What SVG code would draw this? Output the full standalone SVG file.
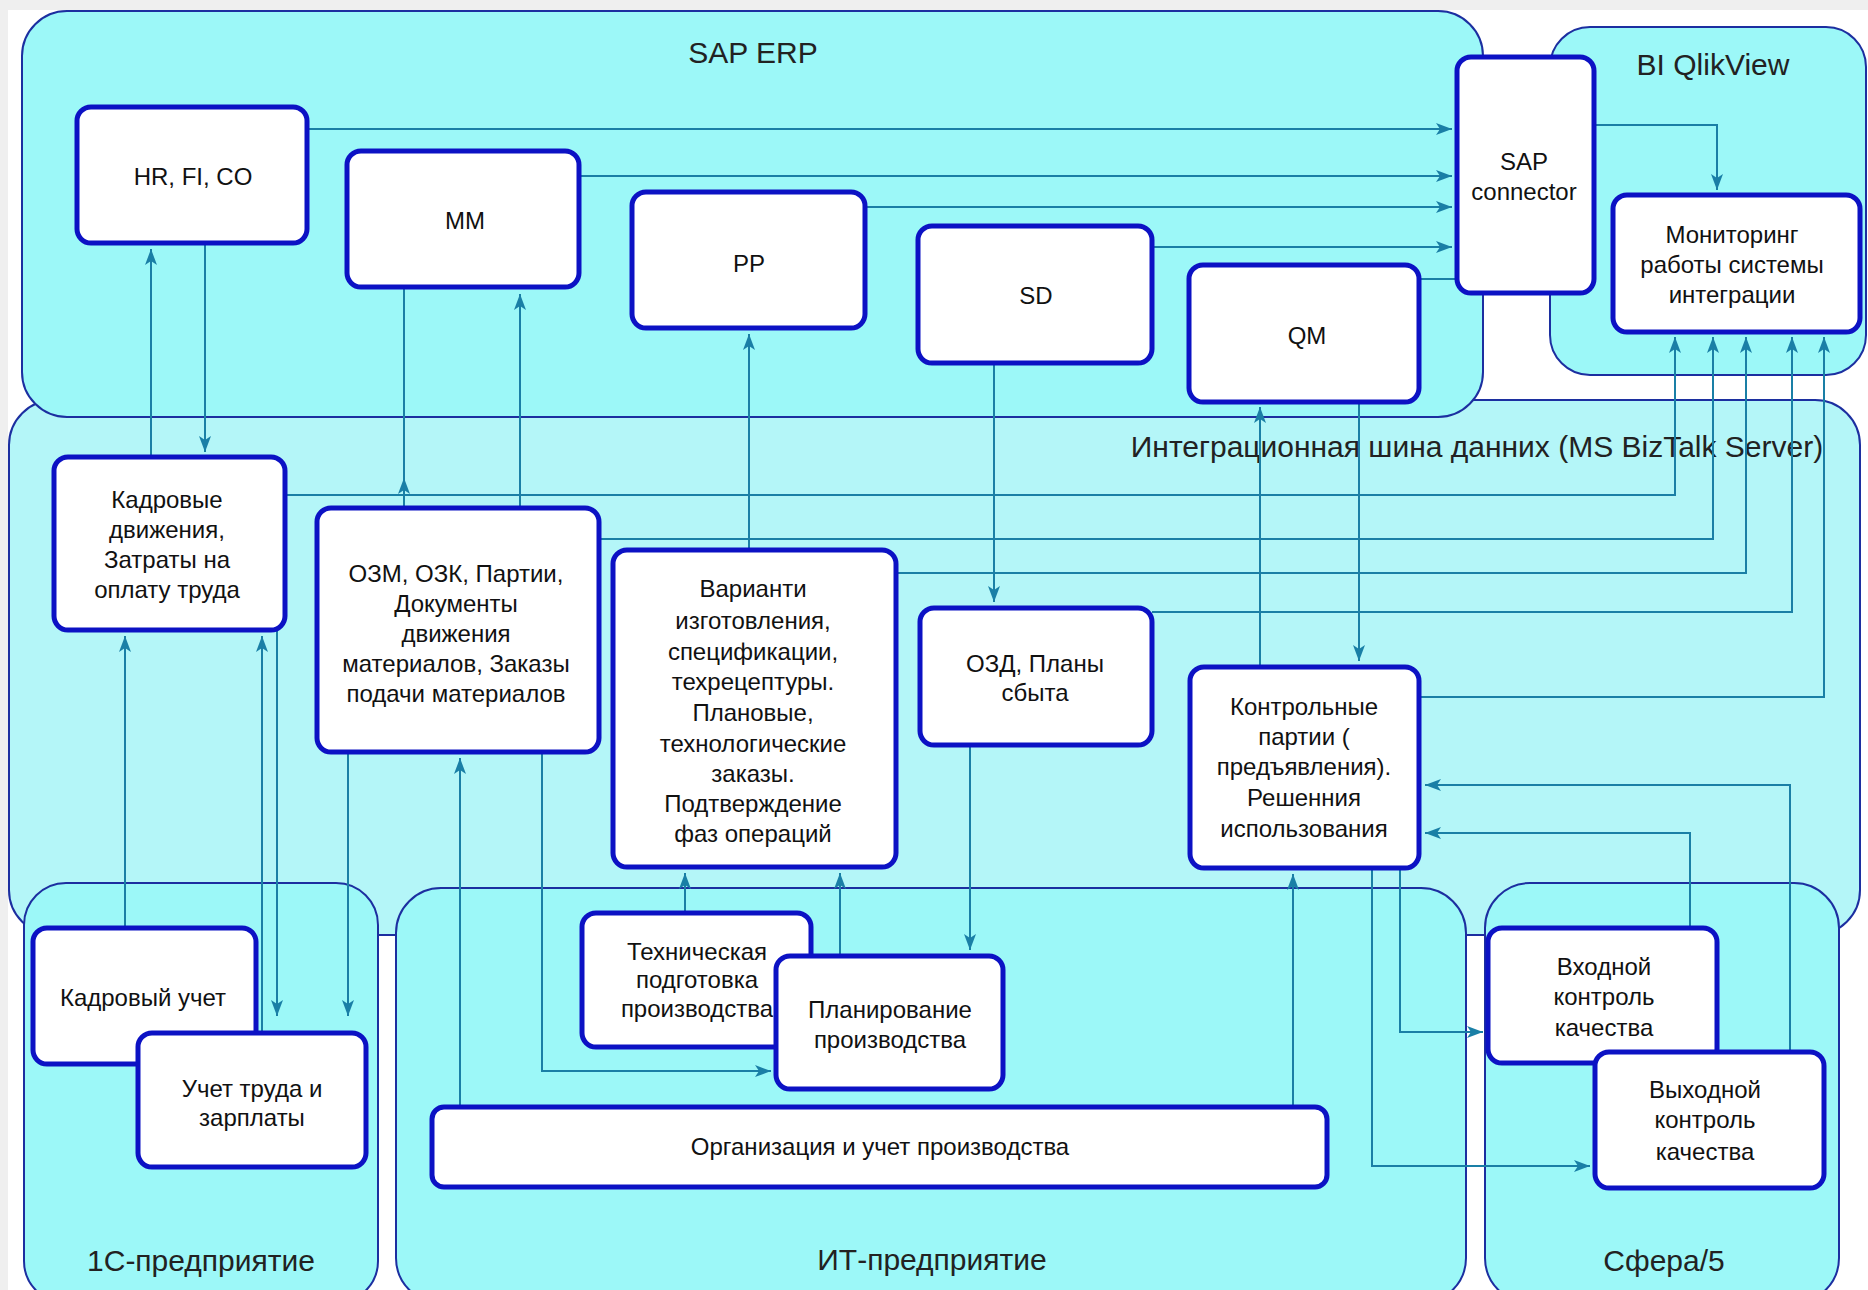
<svg xmlns="http://www.w3.org/2000/svg" width="1868" height="1290" viewBox="0 0 1868 1290">
<defs>
<style>
.cont{fill:#9cf8f8;stroke:#1c2fa0;stroke-width:2}
.bus{fill:#b4f6f8;stroke:#1c2fa0;stroke-width:2}
.node rect{fill:#ffffff;stroke:#0c12c4;stroke-width:5}
.node text,.lbl{font-family:"Liberation Sans",Arial,sans-serif;fill:#111;text-anchor:middle}
.node text{font-size:24px}
.lbl{font-size:30px;fill:#222}
.c{fill:none;stroke:#1a7fa6;stroke-width:2}
.a{marker-end:url(#arr)}
</style>
<marker id="arr" viewBox="0 0 16 12" refX="16" refY="6" markerWidth="16" markerHeight="12" markerUnits="userSpaceOnUse" orient="auto">
<path d="M0,0 L16,6 L0,12 L4,6 Z" fill="#1a7fa6"/>
</marker>
</defs>
<rect x="0" y="0" width="1868" height="1290" fill="#efefef"/>
<rect x="8" y="10" width="1860" height="1280" fill="#ffffff"/>

<g id="containers">
<rect id="bus" class="bus" x="9" y="400" width="1851" height="535" rx="45"/>
<rect id="sap-erp" class="cont" x="22" y="11" width="1461" height="406" rx="45"/>
<rect id="bi-qlikview" class="cont" x="1550" y="27" width="316" height="348" rx="40"/>
<rect id="c1-enterprise" class="cont" x="24" y="883" width="354" height="420" rx="42"/>
<rect id="it-enterprise" class="cont" x="396" y="888" width="1070" height="415" rx="45"/>
<rect id="sfera" class="cont" x="1485" y="883" width="354" height="420" rx="45"/>
</g>

<g id="container-labels">
<text class="lbl" x="753" y="63">SAP ERP</text>
<text class="lbl" x="1713" y="75">BI QlikView</text>
<text class="lbl" x="1477" y="457">Интеграционная шина данних (MS BizTalk Server)</text>
<text class="lbl" x="201" y="1271">1С-предприятие</text>
<text class="lbl" x="932" y="1270">ИТ-предприятие</text>
<text class="lbl" x="1664" y="1271">Сфера/5</text>
</g>

<g id="connectors">
<path class="c a" d="M307,129 H1452"/>
<path class="c a" d="M579,176 H1452"/>
<path class="c a" d="M865,207 H1452"/>
<path class="c a" d="M1152,247 H1452"/>
<path class="c" d="M1419,279 H1457"/>
<path class="c a" d="M1594,125 H1717 V190"/>
<path class="c a" d="M151,457 V249"/>
<path class="c a" d="M205,243 V452"/>
<path class="c" d="M404,508 L404,478 L404,287" style="marker-mid:url(#arr)"/>
<path class="c a" d="M520,508 V294"/>
<path class="c a" d="M749,550 V334"/>
<path class="c a" d="M994,363 V602"/>
<path class="c a" d="M1260,667 V407"/>
<path class="c a" d="M1359,402 V661"/>
<path class="c a" d="M285,495 H1675 V337"/>
<path class="c a" d="M599,539 H1713 V337"/>
<path class="c a" d="M896,573 H1746 V337"/>
<path class="c a" d="M1152,612 H1792 V337"/>
<path class="c a" d="M1419,697 H1824 V337"/>
<path class="c a" d="M125,928 V636"/>
<path class="c a" d="M262,1033 V636"/>
<path class="c a" d="M277,630 V1016"/>
<path class="c a" d="M348,752 V1016"/>
<path class="c a" d="M460,1107 V758"/>
<path class="c a" d="M542,752 V1071 H771"/>
<path class="c a" d="M685,913 V873"/>
<path class="c a" d="M840,956 V873"/>
<path class="c a" d="M970,745 V950"/>
<path class="c a" d="M1293,1107 V874"/>
<path class="c a" d="M1400,868 V1032 H1483"/>
<path class="c a" d="M1372,868 V1166 H1590"/>
<path class="c a" d="M1690,928 V833 H1425"/>
<path class="c a" d="M1790,1052 V785 H1425"/>
</g>

<g id="n-hr" class="node"><rect x="77" y="107" width="230" height="136" rx="14"/><text x="193" y="185">HR, FI, CO</text></g>
<g id="n-mm" class="node"><rect x="347" y="151" width="232" height="136" rx="14"/><text x="465" y="229">MM</text></g>
<g id="n-pp" class="node"><rect x="632" y="192" width="233" height="136" rx="14"/><text x="749" y="272">PP</text></g>
<g id="n-sd" class="node"><rect x="918" y="226" width="234" height="137" rx="14"/><text x="1036" y="304">SD</text></g>
<g id="n-qm" class="node"><rect x="1189" y="265" width="230" height="137" rx="14"/><text x="1307" y="344">QM</text></g>
<g id="n-sapconn" class="node"><rect x="1457" y="57" width="137" height="236" rx="14"/><text x="1524" y="170">SAP</text><text x="1524" y="200">connector</text></g>
<g id="n-monitor" class="node"><rect x="1613" y="195" width="247" height="137" rx="14"/><text x="1732" y="243">Мониторинг</text><text x="1732" y="273">работы системы</text><text x="1732" y="303">интеграции</text></g>
<g id="n-kadr" class="node"><rect x="54" y="457" width="231" height="173" rx="14"/><text x="167" y="508">Кадровые</text><text x="167" y="538">движения,</text><text x="167" y="568">Затраты на</text><text x="167" y="598">оплату труда</text></g>
<g id="n-ozm" class="node"><rect x="317" y="508" width="282" height="244" rx="14"/><text x="456" y="582">ОЗМ, ОЗК, Партии,</text><text x="456" y="612">Документы</text><text x="456" y="642">движения</text><text x="456" y="672">материалов, Заказы</text><text x="456" y="702">подачи материалов</text></g>
<g id="n-var" class="node"><rect x="613" y="550" width="283" height="317" rx="14"/><text x="753" y="597">Варианти</text><text x="753" y="629">изготовления,</text><text x="753" y="660">спецификации,</text><text x="753" y="690">техрецептуры.</text><text x="753" y="721">Плановые,</text><text x="753" y="752">технологические</text><text x="753" y="782">заказы.</text><text x="753" y="812">Подтверждение</text><text x="753" y="842">фаз операций</text></g>
<g id="n-ozd" class="node"><rect x="920" y="608" width="232" height="137" rx="14"/><text x="1035" y="672">ОЗД, Планы</text><text x="1035" y="701">сбыта</text></g>
<g id="n-kontr" class="node"><rect x="1190" y="667" width="229" height="201" rx="14"/><text x="1304" y="715">Контрольные</text><text x="1304" y="745">партии (</text><text x="1304" y="775">предъявления).</text><text x="1304" y="806">Решенния</text><text x="1304" y="837">использования</text></g>
<g id="n-kadruchet" class="node"><rect x="33" y="928" width="223" height="136" rx="14"/><text x="143" y="1006">Кадровый учет</text></g>
<g id="n-uchet" class="node"><rect x="138" y="1033" width="228" height="134" rx="14"/><text x="252" y="1097">Учет труда и</text><text x="252" y="1126">зарплаты</text></g>
<g id="n-tech" class="node"><rect x="582" y="913" width="229" height="134" rx="14"/><text x="697" y="960">Техническая</text><text x="697" y="988">подготовка</text><text x="697" y="1017">производства</text></g>
<g id="n-plan" class="node"><rect x="776" y="956" width="227" height="133" rx="14"/><text x="890" y="1018">Планирование</text><text x="890" y="1048">производства</text></g>
<g id="n-org" class="node"><rect x="432" y="1107" width="895" height="80" rx="12"/><text x="880" y="1155">Организация и учет производства</text></g>
<g id="n-vhod" class="node"><rect x="1488" y="928" width="229" height="135" rx="14"/><text x="1604" y="975">Входной</text><text x="1604" y="1005">контроль</text><text x="1604" y="1036">качества</text></g>
<g id="n-vyhod" class="node"><rect x="1595" y="1052" width="229" height="136" rx="14"/><text x="1705" y="1098">Выходной</text><text x="1705" y="1128">контроль</text><text x="1705" y="1160">качества</text></g>
</svg>
